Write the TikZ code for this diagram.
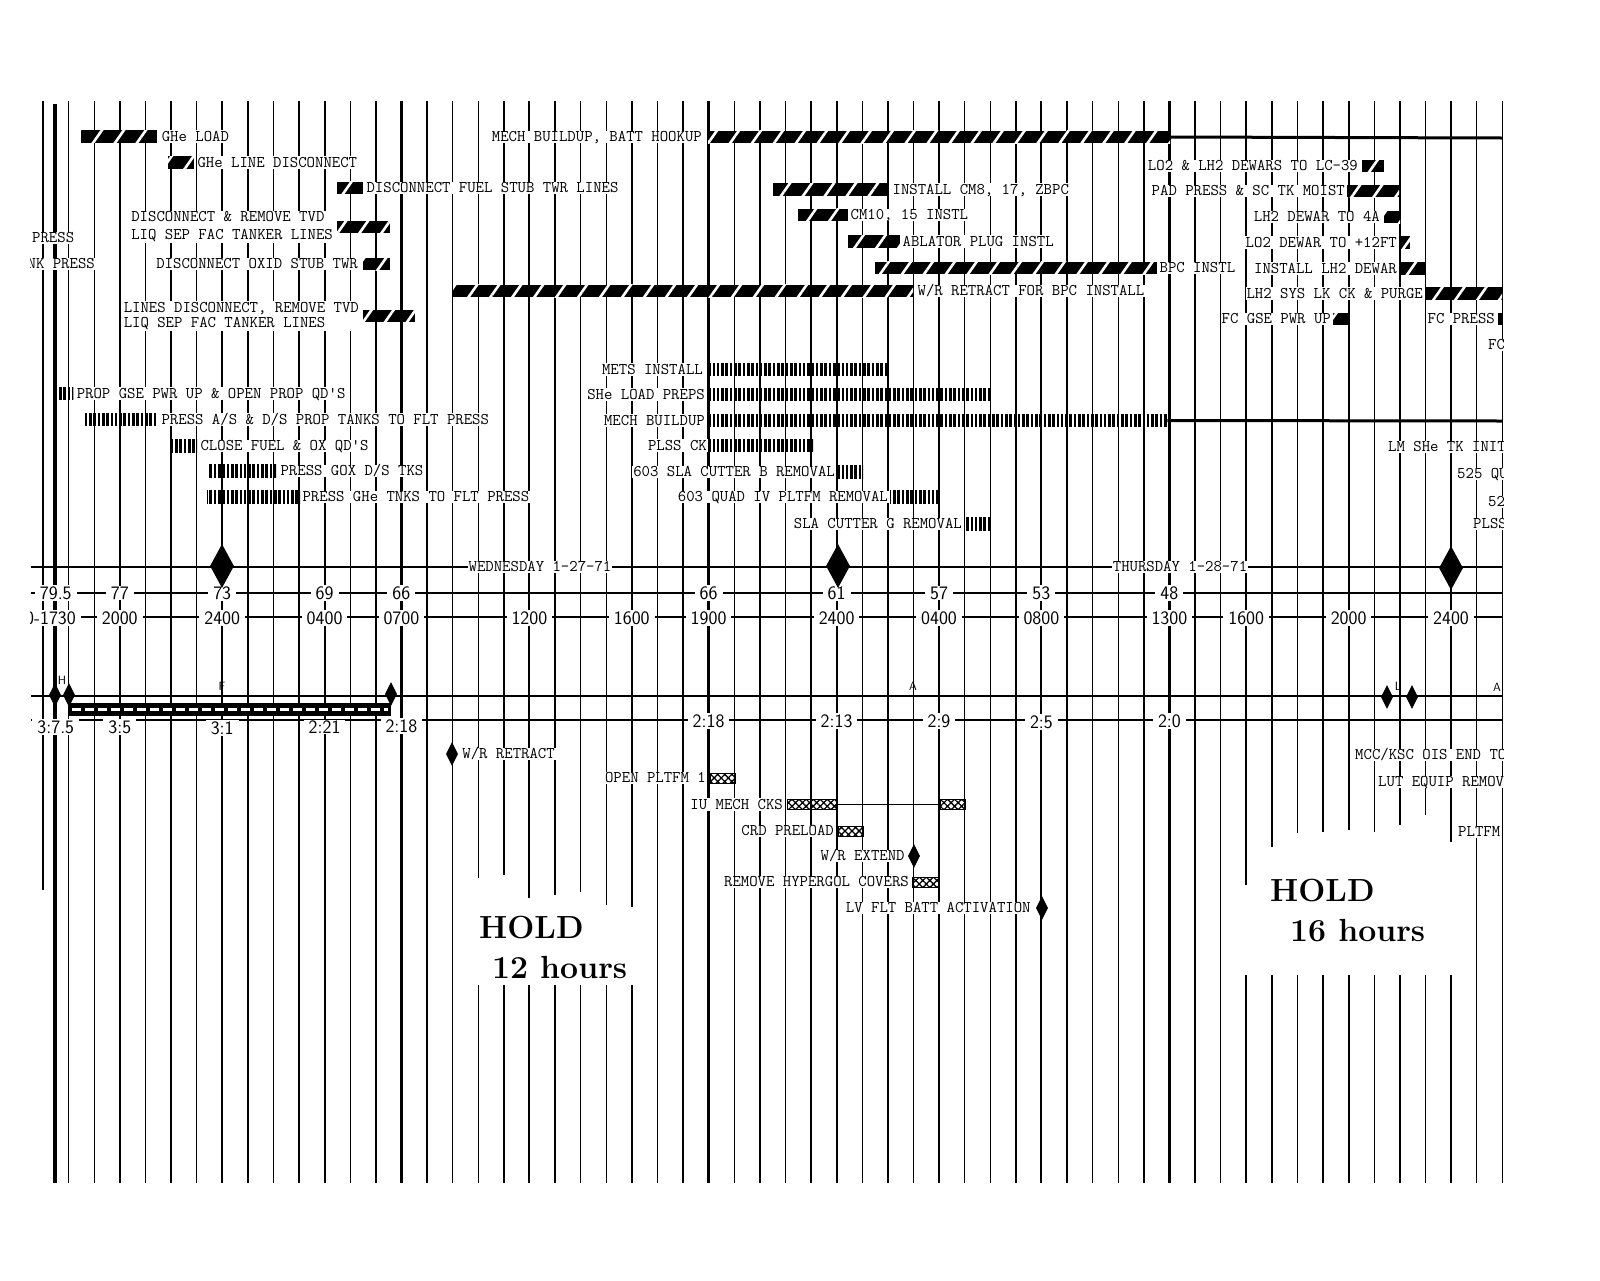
\documentclass[tikz,border=0pt]{standalone}
\usepackage{fontspec}
\usetikzlibrary{positioning,shapes.geometric,patterns.meta}
\tikzset{
  gridln/.style ={line width=1.4pt},
  hourln/.style ={line width=2pt},
  dayln/.style  ={line width=3.6pt},
  rule/.style   ={line width=1.9pt},
  heavy/.style  ={line width=3pt},
  txt/.style    ={font=\fontsize{16.3}{18}\selectfont\ttfamily\addfontfeatures{FakeBold=1.2},inner sep=1pt,fill=white},
  lbl/.style    ={txt,text height=10pt,text depth=.5pt},
  lbltwo/.style ={txt,align=left},
  num/.style    ={font=\fontsize{19}{20}\selectfont\sffamily\addfontfeatures{FakeBold=0.8},inner xsep=5pt,inner ysep=1pt,fill=white},
  tag/.style    ={font=\fontsize{12}{12}\selectfont\sffamily,inner sep=0pt},
  bar/.style    ={inner sep=0pt,minimum height=12.5pt,anchor=west},
  dbar/.style   ={bar,preaction={fill=black},pattern={Lines[angle=55,distance=18pt,line width=2.6pt]},pattern color=white},
  vbar/.style   ={bar,pattern={Lines[angle=90,distance=4.3pt,line width=2.6pt]}},
  xbar/.style   ={bar,minimum height=10pt,draw,line width=1pt,pattern={Hatch[angle=45,distance=5pt,line width=1.3pt]}},
  ms/.style     ={diamond,fill=black,inner sep=0pt,minimum width=12pt,minimum height=24pt},
  bigms/.style  ={ms,minimum width=24pt,minimum height=44pt},
  hold/.style   ={font=\fontsize{32}{38}\selectfont\bfseries,inner sep=0pt,anchor=west},
}
\begin{document}
\begin{tikzpicture}[x=1pt,y=-1pt]
  \useasboundingbox (0,0) rectangle (1600,1280);
  \fill[white] (0,0) rectangle (1600,1280);
  % hour grid
  \foreach \k in {1,...,16,24,25,...,46,56,57}{\draw[gridln](43+25.6*\k,101)--(43+25.6*\k,1183);}
  \foreach \k/\e/\r/\w in {17/878/985/1.4,18/875/985/1.4,19/898/985/2,20/895/985/1.4,21/892/985/1.4,22/905/985/1.4,23/907/985/2,
    47/885/975/2,48/847/975/1.4,49/833/975/1.4,50/832/975/1.4,51/830/975/2,52/832/975/1.4,53/825/975/1.4,54/815/975/1.4,55/842/975/2}
    {\draw[line width=\w pt](43+25.6*\k,101)--(43+25.6*\k,\e) (43+25.6*\k,\r)--(43+25.6*\k,1183);}
  \draw[gridln](43,101)--(43,890);
  \foreach \k in {3,7,11,31,35,39}{\draw[hourln](43+25.6*\k,101)--(43+25.6*\k,1183);}
  \foreach \k in {14,26,44}{\draw[dayln](43+25.6*\k,101)--(43+25.6*\k,1183);}
  \draw[dayln](55,104)--(55,1183);

  % time scales
  \coordinate (dayL) at (31,567);  \coordinate (dayR) at (1502,567);
  \coordinate (hrL) at (31,593);   \coordinate (hrR) at (1502,593);
  \coordinate (clkL) at (31,617);  \coordinate (clkR) at (1502,617);
  \coordinate (msL) at (31,696);   \coordinate (msR) at (1502,696);
  \coordinate (dhL) at (31,720);   \coordinate (dhR) at (1502,720);
  \draw[rule](dayL)--(dayR) (hrL)--(hrR) (clkL)--(clkR) (msL)--(msR) (dhL)--(dhR);
  \node[lbl](wed) at (540,567){WEDNESDAY 1-27-71};
  \node[lbl](thu) at (1180,567){THURSDAY 1-28-71};
  \foreach \k/\t [count=\i] in {0.5/79.5,3/77,7/73,11/69,14/66,26/66,31/61,35/57,39/53,44/48}
    {\node[num](hr\i) at (43+25.6*\k,593){\t};}
  \foreach \k/\t [count=\i] in {3/2000,7/2400,11/0400,14/0700,19/1200,23/1600,26/1900,31/2400,35/0400,39/0800,44/1300,47/1600,51/2000,55/2400}
    {\node[num](clk\i) at (43+25.6*\k,618){\t};}
  \foreach \k/\t/\y [count=\i] in {0.5/3:7.5/727,3/3:5/727,7/3:1/728,11/2:21/727,14/2:18/726,26/2:18/721,31/2:13/721,35/2:9/721,39/2:5/722,44/2:0/721}
    {\node[num](dh\i) at (43+25.6*\k,\y){\t};}
  \node[bigms](d1) at (222,566){}; \node[bigms](d2) at (838,566){}; \node[bigms](d3) at (1451,568){};

  % vehicle and pad tasks
  \node[dbar,minimum width=76pt](ghe) at (80,136.5){};        \node[lbl,right=2pt of ghe](gheT){GHe LOAD};
  \node[dbar,minimum width=26pt](gheln) at (168,162.5){};     \node[lbl,right=2pt of gheln](gheLnT){GHe LINE DISCONNECT};
  \node[dbar,minimum width=26pt](fstub) at (337,188){};       \node[lbl,right=2pt of fstub](fstubT){DISCONNECT FUEL STUB TWR LINES};
  \node[dbar,minimum width=53pt](tvd) at (337,227){};         \node[lbltwo,left=3pt of tvd](tvdT){DISCONNECT \& REMOVE TVD\\LIQ SEP FAC TANKER LINES};
  \node[dbar,minimum width=27pt](ostub) at (363,264){};       \node[lbl,left=4pt of ostub](ostubT){DISCONNECT OXID STUB TWR};
  \node[dbar,minimum width=52pt](tvdb) at (363,316){};        \node[lbltwo,left=3pt of tvdb](tvdbT){LINES DISCONNECT, REMOVE TVD\\[-3pt]LIQ SEP FAC TANKER LINES};
  \node[dbar,minimum width=462pt](hook) at (708,137){};       \node[lbl,left=5pt of hook](hookT){MECH BUILDUP, BATT HOOKUP};
  \coordinate (hookR) at (1502,138);
  \draw[heavy](hook.east)--(hookR);
  \node[dbar,minimum width=460pt](wrr) at (453,291){};        \node[lbl,right=3pt of wrr](wrrT){W/R RETRACT FOR BPC INSTALL};
  \node[dbar,minimum width=115pt](cm8) at (773,189.5){};      \node[lbl,right=3pt of cm8](cm8T){INSTALL CM8, 17, ZBPC};
  \node[dbar,minimum width=50pt](cm10) at (798,215){};        \node[lbl,right=1pt of cm10](cm10T){CM10, 15 INSTL};
  \node[dbar,minimum width=52pt](abl) at (848,241.5){};       \node[lbl,right=1pt of abl](ablT){ABLATOR PLUG INSTL};
  \node[dbar,minimum width=282pt](bpc) at (875,268){};        \node[lbl,right=1pt of bpc](bpcT){BPC INSTL};
  \node[dbar,minimum width=22pt](dew) at (1362,166){};        \node[lbl,left=3pt of dew](dewT){LO2 \& LH2 DEWARS TO LC-39};
  \node[dbar,minimum width=52pt](pad) at (1347,191){};        \node[lbl,left=1pt of pad](padT){PAD PRESS \& SC TK MOIST};
  \node[dbar,minimum width=16pt](lhdew) at (1384,217){};      \node[lbl,left=3pt of lhdew](lhdewT){LH2 DEWAR TO 4A};
  \node[dbar,minimum width=10pt](lodew) at (1400,242.5){};    \node[lbl,left=2pt of lodew](lodewT){LO2 DEWAR TO +12FT};
  \node[dbar,minimum width=26pt](inlh) at (1400,268.5){};     \node[lbl,left=2pt of inlh](inlhT){INSTALL LH2 DEWAR};
  \node[dbar,minimum width=76pt](purge) at (1426,293.5){};    \node[lbl,left=2pt of purge](purgeT){LH2 SYS LK CK \& PURGE};
  \node[dbar,minimum width=15pt](fcgse) at (1333,319){};      \node[lbl,left=1pt of fcgse](fcgseT){FC GSE PWR UP};
  \node[dbar,minimum width=4pt](fcpr) at (1498,319){};        \node[lbl,left=2pt of fcpr](fcprT){FC PRESS};

  % spacecraft tasks
  \node[vbar,minimum width=17pt](prop) at (55,393.5){};       \node[lbl,right=1pt of prop](propT){PROP GSE PWR UP \& OPEN PROP QD'S};
  \node[vbar,minimum width=74pt](asds) at (83,419.5){};       \node[lbl,right=3pt of asds](asdsT){PRESS A/S \& D/S PROP TANKS TO FLT PRESS};
  \node[vbar,minimum width=27pt](qds) at (170,446){};         \node[lbl,right=2pt of qds](qdsT){CLOSE FUEL \& OX QD'S};
  \node[vbar,minimum width=68pt](gox) at (208,471){};         \node[lbl,right=3pt of gox](goxT){PRESS GOX D/S TKS};
  \node[vbar,minimum width=93pt](ghet) at (207,497){};        \node[lbl,right=1pt of ghet](ghetT){PRESS GHe TNKS TO FLT PRESS};
  \node[vbar,minimum width=178pt](mets) at (710,369.5){};     \node[lbl,left=6pt of mets](metsT){METS INSTALL};
  \node[vbar,minimum width=281pt](she) at (710,394.5){};      \node[lbl,left=4pt of she](sheT){SHe LOAD PREPS};
  \node[vbar,minimum width=457pt](mech) at (710,420.5){};     \node[lbl,left=4pt of mech](mechT){MECH BUILDUP};
  \coordinate (mechR) at (1502,421);
  \draw[heavy](mech.east)--(mechR);
  \node[vbar,minimum width=105pt](plss) at (708,445.5){};     \node[lbl,left=0pt of plss](plssT){PLSS CK};
  \node[vbar,minimum width=25pt](cutb) at (838,472){};        \node[lbl,left=2pt of cutb](cutbT){603 SLA CUTTER B REMOVAL};
  \node[vbar,minimum width=48pt](quad) at (890,497){};        \node[lbl,left=1pt of quad](quadT){603 QUAD IV PLTFM REMOVAL};
  \node[vbar,minimum width=26pt](cutg) at (965,524){};        \node[lbl,left=2pt of cutg](cutgT){SLA CUTTER G REMOVAL};

  % launch vehicle events
  \node[bar,fill=black,minimum width=322pt,minimum height=13pt](hbar) at (69,709.5){};
  \draw[white,line width=3.5pt,dash pattern=on 9pt off 4pt,shorten <=3pt,shorten >=3pt](hbar.west)--(hbar.east);
  \node[ms](mh1) at (55,695){}; \node[ms](mh2) at (69,695){}; \node[ms](mf) at (391,694){};
  \node[ms](ml1) at (1387,697){}; \node[ms](ml2) at (1412,697){};
  \node[tag](tH) at (62,680){H}; \node[tag](tF) at (222,686){F}; \node[tag](tA) at (913,686){A};
  \node[tag](tL) at (1398,686){L}; \node[tag](tA2) at (1497,687){A};
  \node[ms](wrret) at (452,754){};                            \node[lbl,right=3pt of wrret](wrretT){W/R RETRACT};
  \node[xbar,minimum width=25pt](open) at (710,778){};        \node[lbl,left=3pt of open](openT){OPEN PLTFM 1};
  \node[xbar,minimum width=50pt](iua) at (787,804.5){};       \node[lbl,left=3pt of iua](iuT){IU MECH CKS};
  \node[xbar,minimum width=25pt](iub) at (940,804.5){};
  \draw[rule](iua.east)--(iub.west);
  \node[xbar,minimum width=25pt](crd) at (838,831){};         \node[lbl,left=3pt of crd](crdT){CRD PRELOAD};
  \node[ms](wrext) at (914,856){};                            \node[lbl,left=2pt of wrext](wrextT){W/R EXTEND};
  \node[xbar,minimum width=26pt](hyp) at (912,882){};         \node[lbl,left=2pt of hyp](hypT){REMOVE HYPERGOL COVERS};
  \node[ms](batt) at (1042,908){};                            \node[lbl,left=4pt of batt](battT){LV FLT BATT ACTIVATION};

  % holds
  \node[hold](holdA) at (479,928){HOLD};
  \node[hold](hrsA) at (492,967){12 hours};
  \node[hold](holdB) at (1270,891){HOLD};
  \node[hold](hrsB) at (1290,931){16 hours};

  % labels cut at the sheet edges
  \begin{scope}
    \clip (30,0) rectangle (1503,1280);
    \node[num,anchor=east](clk0) at (81,618){0-1730};
    \node[lbl,anchor=west](pressL) at (31,238){PRESS};
    \node[lbl,anchor=east](nkL) at (96,264){NK PRESS};
    \node[lbl,anchor=west](fcR) at (1487,345){FC PRESS};
    \node[lbl,anchor=west](lmR) at (1387,447){LM SHe TK INIT};
    \node[lbl,anchor=west](quR) at (1456,474){525 QUAD};
    \node[lbl,anchor=west](ftR) at (1487,502){525};
    \node[lbl,anchor=west](plR) at (1472,524){PLSS};
    \node[lbl,anchor=west](mccR) at (1354,755){MCC/KSC OIS END TO};
    \node[lbl,anchor=west](lutR) at (1377,782){LUT EQUIP REMOV};
    \node[lbl,anchor=west](pfR) at (1457,832){PLTFM};
  \end{scope}
\end{tikzpicture}
\end{document}
